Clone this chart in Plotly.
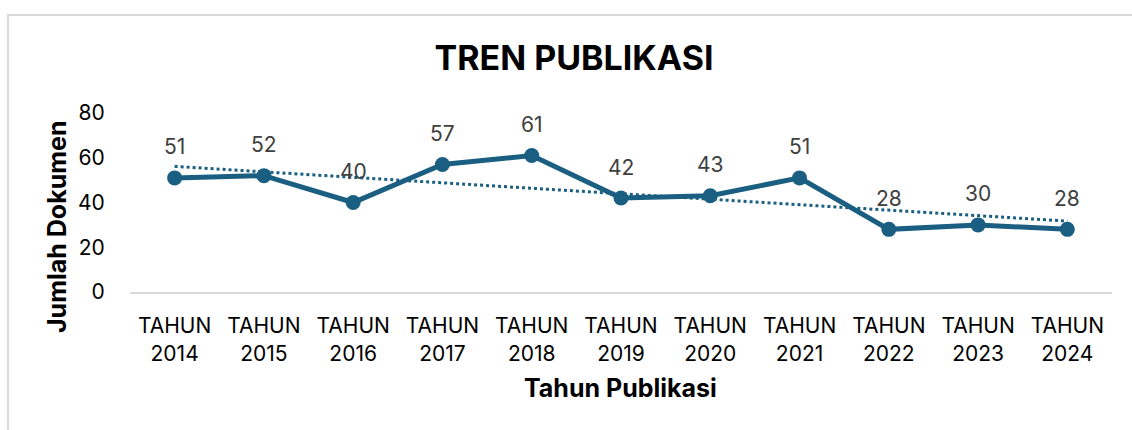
import numpy as np
import plotly.graph_objects as go

years = ["2014", "2015", "2016", "2017", "2018", "2019", "2020", "2021", "2022", "2023", "2024"]
categories = ["TAHUN<br>" + y for y in years]
jumlah = [51, 52, 40, 57, 61, 42, 43, 51, 28, 30, 28]
y_ticks = [0, 20, 40, 60, 80]

COLOR = "#1A5F82"
FONT = "Inter"

idx = np.arange(len(jumlah))
slope, intercept = np.polyfit(idx, jumlah, 1)
trend = slope * idx + intercept

fig = go.Figure()
fig.add_trace(go.Scatter(
    x=categories, y=trend, mode="lines",
    line=dict(color=COLOR, width=3, dash="dot"),
    hoverinfo="skip", showlegend=False,
))
fig.add_trace(go.Scatter(
    x=categories, y=jumlah, mode="lines+markers",
    line=dict(color=COLOR, width=5),
    marker=dict(color=COLOR, size=15),
    showlegend=False,
))

for c, v in zip(categories, jumlah):
    fig.add_annotation(x=c, y=v, text=str(v), showarrow=False, yshift=31,
                       font=dict(family=FONT, size=21, color="#404040"))

L, R, T, B = 130, 20, 113, 138
W, H = 1132, 430
pw, ph = W - L - R, H - T - B
def px_x(p):
    return (p - L) / pw
def px_y(p):
    return (H - B - p) / ph

# outer chart border
fig.add_shape(type="rect", xref="paper", yref="paper",
              x0=px_x(8), x1=px_x(1140), y0=px_y(15), y1=px_y(440),
              line=dict(color="#D9D9D9", width=2), layer="below")

# axis titles
fig.add_annotation(xref="paper", yref="paper", x=px_x(620), y=px_y(388),
                   xanchor="center", yanchor="middle", showarrow=False,
                   text="<b>Tahun Publikasi</b>",
                   font=dict(family=FONT, size=25, color="black"))
fig.add_annotation(xref="paper", yref="paper", x=px_x(57), y=px_y(227),
                   xanchor="center", yanchor="middle", showarrow=False,
                   text="<b>Jumlah Dokumen</b>", textangle=-90,
                   font=dict(family=FONT, size=25, color="black"))

fig.update_layout(
    width=W, height=H,
    margin=dict(l=L, r=R, t=T, b=B),
    paper_bgcolor="white", plot_bgcolor="white",
    title=dict(text="<b>TREN PUBLIKASI</b>", x=574 / W, xanchor="center",
               y=1 - 58 / H, yanchor="middle",
               font=dict(family=FONT, size=34, color="black")),
    font=dict(family=FONT, size=21, color="black"),
)
fig.update_xaxes(
    type="category", range=[-0.5, 10.5],
    showline=True, linecolor="#D9D9D9", linewidth=2,
    showgrid=False, zeroline=False,
    ticks="outside", ticklen=14, tickcolor="rgba(0,0,0,0)",
    tickfont=dict(family=FONT, size=21, color="black"),
)
fig.update_yaxes(
    range=[0, 80], tickvals=y_ticks,
    showline=False, showgrid=False, zeroline=False,
    ticks="outside", ticklen=20, tickcolor="rgba(0,0,0,0)",
    tickfont=dict(family=FONT, size=21, color="black"),
)

fig.write_html("out.html")
